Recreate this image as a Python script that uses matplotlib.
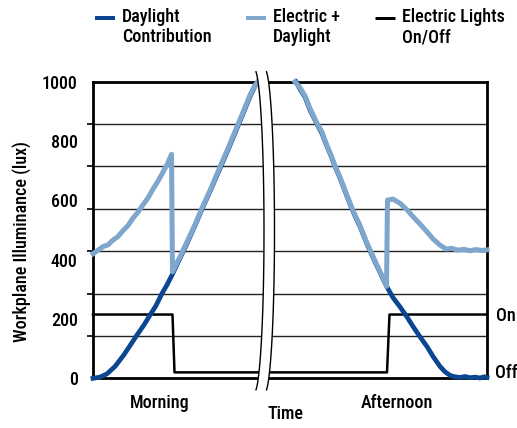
import numpy as np
import matplotlib
matplotlib.use("Agg")
import matplotlib.pyplot as plt
from matplotlib.lines import Line2D
from matplotlib.patches import Polygon
from matplotlib import font_manager

names = {f.name for f in font_manager.fontManager.ttflist}
chosen = None
for cand in ['Roboto Condensed', 'Liberation Sans Narrow', 'Open Sans Condensed', 'Arial Narrow']:
    if cand in names:
        chosen = cand
        break
if chosen:
    plt.rcParams['font.family'] = [chosen, 'DejaVu Sans']
    FS = 13
else:
    plt.rcParams['font.family'] = ['DejaVu Sans']
    plt.rcParams['font.stretch'] = 'condensed'
    FS = 12
plt.rcParams['font.weight'] = 'medium'

# ---- data (time in arbitrary units along the axis, illuminance in lux) ----
morning_daylight_t = [0, 7, 14, 22, 30, 37, 44, 51, 57, 63, 69, 74, 79, 87, 94,
                      102, 109, 117, 126, 135, 143, 151, 157, 162, 165]
morning_daylight_v = [0, 4, 15, 40, 75, 110, 146, 180, 213, 245, 286, 315, 348, 405, 455,
                      515, 570, 630, 700, 770, 835, 900, 950, 985, 1000]

morning_total_t = [0, 5, 10, 15, 20, 25, 30, 35, 40, 45, 50, 55, 60, 65, 70, 74, 78.5,
                   79.5, 87, 94, 102, 109, 117, 126, 135, 143, 151, 157, 162, 165]
morning_total_v = [420, 432, 444, 450, 466, 478, 498, 515, 540, 560, 585, 608, 638, 665, 695, 720, 755,
                   359, 410, 460, 518, 574, 633, 705, 775, 840, 905, 955, 988, 1000]

afternoon_daylight_t = [203, 207, 212, 217, 224, 229, 233, 238, 242, 247, 251, 255, 259, 263,
                        267, 271, 275, 279, 283, 287, 290, 294, 300, 307, 314, 320, 327, 334,
                        340, 347, 352, 357, 362, 367, 372, 377, 382, 387, 391, 394]
afternoon_daylight_v = [1000, 975, 948, 905, 857, 825, 790, 750, 714, 675, 640, 605, 571, 540,
                        512, 478, 445, 415, 385, 358, 335, 308, 272, 241, 207, 175, 140, 107,
                        74, 40, 22, 10, 5, 3, 6, 2, 4, 1, 5, 3]

afternoon_total_t = [202, 207, 212, 217, 224, 229, 233, 238, 242, 247, 251, 255, 259, 263,
                     267, 271, 275, 279, 283, 287, 290, 293.5, 294.5, 300, 307, 314, 320, 327,
                     334, 340, 347, 353, 359, 365, 371, 377, 383, 389, 394]
afternoon_total_v = [1000, 980, 952, 910, 860, 830, 793, 752, 716, 678, 643, 608, 574, 543,
                     515, 480, 448, 418, 388, 360, 338, 310, 601, 604, 590, 568, 545, 520,
                     494, 470, 449, 436, 438, 432, 435, 430, 434, 431, 433]

lights_t = [0, 79.5, 81.5, 294, 296.5, 394]
lights_v = [215, 215, 20, 20, 215, 215]

y_tick_values = [0, 200, 400, 600, 800, 1000]
grid_values = np.linspace(0, 1000, 8)

DARK = '#0a4691'
LIGHT = '#7fa6cc'

W, H = 517, 428
fig = plt.figure(figsize=(W / 100, H / 100), dpi=100)

def fx(px):
    return px / W

def fy(py):
    return (H - py) / H

ax_l, ax_r, ax_t, ax_b = 93, 487, 81.7, 378.3
ax = fig.add_axes([fx(ax_l), fy(ax_b), fx(ax_r) - fx(ax_l), fy(ax_t) - fy(ax_b)])
ax.set_xlim(0, ax_r - ax_l)
ax.set_ylim(0, 1000)

ax.plot(lights_t, lights_v, color='black', lw=1.8, zorder=3, clip_on=False)
ax.plot(morning_daylight_t, morning_daylight_v, color=DARK, lw=3.4, zorder=4, clip_on=False)
ax.plot(afternoon_daylight_t, afternoon_daylight_v, color=DARK, lw=3.4, zorder=4, clip_on=False)
ax.plot(morning_total_t, morning_total_v, color=LIGHT, lw=3.6, zorder=5, clip_on=False)
ax.plot(afternoon_total_t, afternoon_total_v, color=LIGHT, lw=3.6, zorder=5, clip_on=False)

ax.set_yticks(y_tick_values)
ax.set_yticklabels([str(v) for v in y_tick_values])
ax.set_yticks(grid_values, minor=True)
ax.tick_params(axis='y', which='major', length=0, pad=11, labelsize=FS)
ax.tick_params(axis='y', which='minor', length=4, width=1.2, color='black')
ax.set_xticks([])
ax.grid(True, which='minor', axis='y', color='#222222', lw=1.0, zorder=1)
ax.grid(False, which='major')
for s in ['left', 'right', 'top', 'bottom']:
    ax.spines[s].set_linewidth(2.0)
    ax.spines[s].set_color('black')

# ---- axis break: white band bounded by two ")" arcs ----
theta = np.linspace(-np.radians(80), np.radians(80), 80)
a, b, yc = 9.7, 161.5, 230.8
def arc_pts(x0):
    xs = x0 + a * np.cos(theta)
    ys = yc + b * np.sin(theta)
    return np.column_stack([fx(xs), fy(ys)])
arc1 = arc_pts(254.3)
arc2 = arc_pts(264.8)
band = np.vstack([arc1, arc2[::-1]])
fig.add_artist(Polygon(band, closed=True, facecolor='white', edgecolor='none',
                       transform=fig.transFigure, zorder=10))
for pts in (arc1, arc2):
    fig.add_artist(Line2D(pts[:, 0], pts[:, 1], color='black', lw=1.0,
                          transform=fig.transFigure, zorder=11))

# ---- labels ----
fig.text(fx(22), fy(241), 'Workplane Illuminance (lux)', rotation=90, ha='center',
         va='center', fontsize=FS)
fig.text(fx(160), fy(403), 'Morning', ha='center', va='center', fontsize=FS)
fig.text(fx(285), fy(414), 'Time', ha='center', va='center', fontsize=FS)
fig.text(fx(397), fy(403), 'Afternoon', ha='center', va='center', fontsize=FS)
fig.text(fx(496), fy(316), 'On', ha='left', va='center', fontsize=FS)
fig.text(fx(495), fy(373), 'Off', ha='left', va='center', fontsize=FS)

# ---- legend ----
legend_items = [
    (95, DARK, 4.0, 'Daylight\nContribution'),
    (246, LIGHT, 4.0, 'Electric +\nDaylight'),
    (375, 'black', 3.0, 'Electric Lights\nOn/Off'),
]
for x0, col, lw, label in legend_items:
    fig.add_artist(Line2D([fx(x0), fx(x0 + 20)], [fy(18), fy(18)], color=col, lw=lw * 0.72,
                          transform=fig.transFigure, solid_capstyle='butt'))
    fig.text(fx(x0 + 27), fy(8), label, ha='left', va='top', fontsize=FS, linespacing=1.15)

fig.savefig('out.png', dpi=100)
